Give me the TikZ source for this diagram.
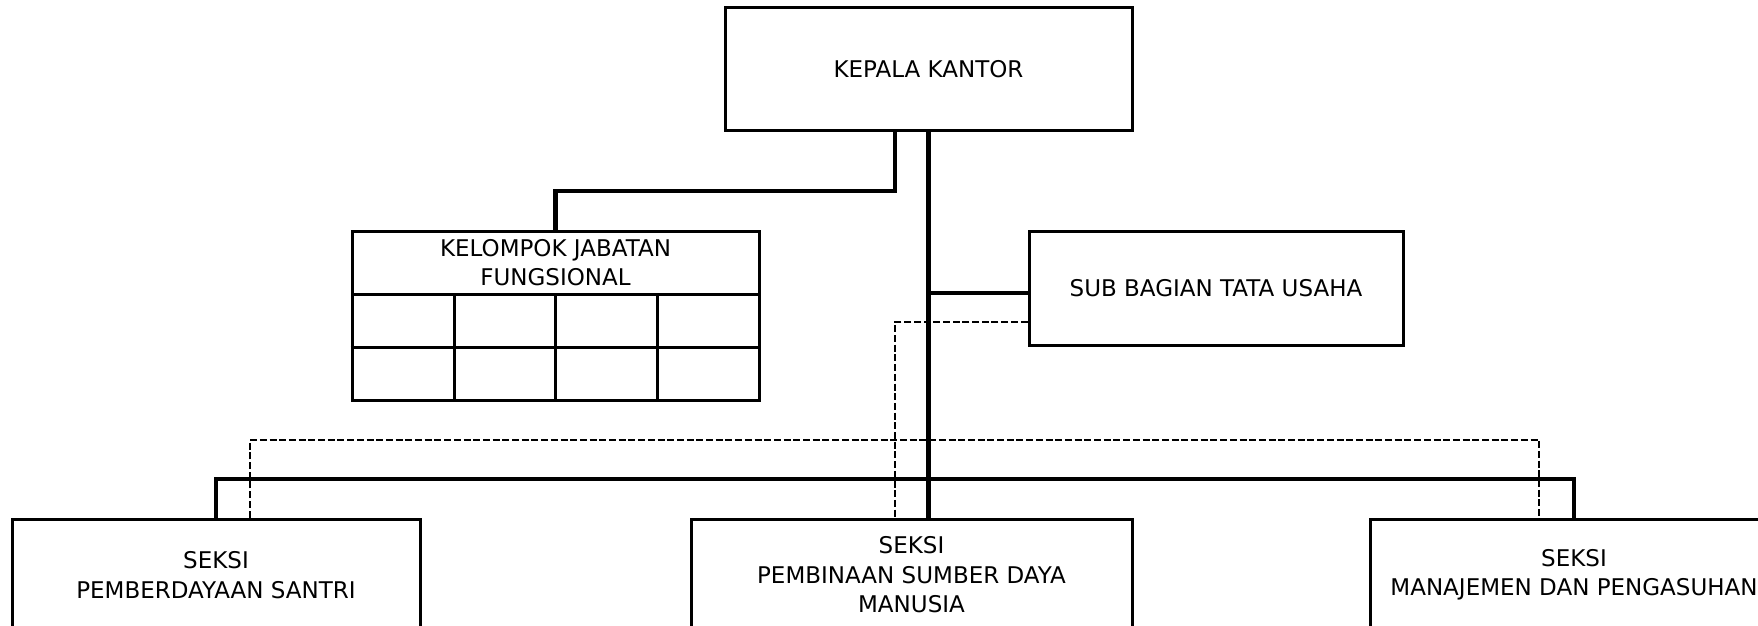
\documentclass[tikz,border=0pt]{standalone}
\usepackage{fontspec}
\setmainfont{DejaVu Sans}
\begin{document}
\begin{tikzpicture}[x=1pt,y=-1pt,
  box/.style={draw, line width=3pt, inner sep=0pt, align=center, font=\fontsize{23}{29.5}\selectfont},
  conn/.style={line width=4.6pt},
  dconn/.style={line width=2.5pt, dash pattern=on 7pt off 2.7pt},
  gridline/.style={line width=3pt}]
\clip (0,0) rectangle (1758,626);
% boxes
\node[box, minimum width=407pt, minimum height=122pt] (kk) at (928.5,69) {KEPALA KANTOR};
\node[box, minimum width=407pt, minimum height=63pt] (kjf) at (555.5,262.5) {KELOMPOK JABATAN\\FUNGSIONAL};
\node[box, minimum width=407pt, minimum height=106pt] (kjfg) at (555.5,347) {};
\node[box, minimum width=374pt, minimum height=114pt] (sb) at (1216,288) {SUB BAGIAN TATA USAHA};
\node[box, minimum width=408pt, minimum height=112pt] (ps) at (216,575) {SEKSI\\PEMBERDAYAAN SANTRI};
\node[box, minimum width=441pt, minimum height=112pt] (psdm) at (911.5,575) {SEKSI\\PEMBINAAN SUMBER DAYA\\MANUSIA};
\node[box, minimum width=408pt, minimum height=112pt] (man) at (1574,575) {SEKSI\\MANAJEMEN DAN PENGASUHAN};
% grid inside KJF
\draw[gridline] (kjfg.west) -- (kjfg.east);
\draw[gridline] (454,294) -- (454,400);
\draw[gridline] (555.5,294) -- (555.5,400);
\draw[gridline] (657,294) -- (657,400);
% coordinates
\coordinate (j1) at (895,191);
\coordinate (s1) at (928.5,293);
\coordinate (bus) at (928.5,479);
\coordinate (d1) at (895,322);
\coordinate (d2) at (250,440);
\coordinate (d3) at (1539,440);
% solid connectors
\draw[conn] (kk.south -| j1) -- (j1) -| (kjf.north);
\draw[conn] (kk.south) -- (kk.south |- psdm.north);
\draw[conn] (s1) -- (s1 -| sb.west);
\draw[conn] (ps.north) |- (bus) -| (man.north);
% dashed connectors
\draw[dconn] (sb.west |- d1) -| (psdm.north -| d1);
\draw[dconn] (ps.north -| d2) -- (d2) -- (d3) -- (man.north -| d3);
\end{tikzpicture}
\end{document}
